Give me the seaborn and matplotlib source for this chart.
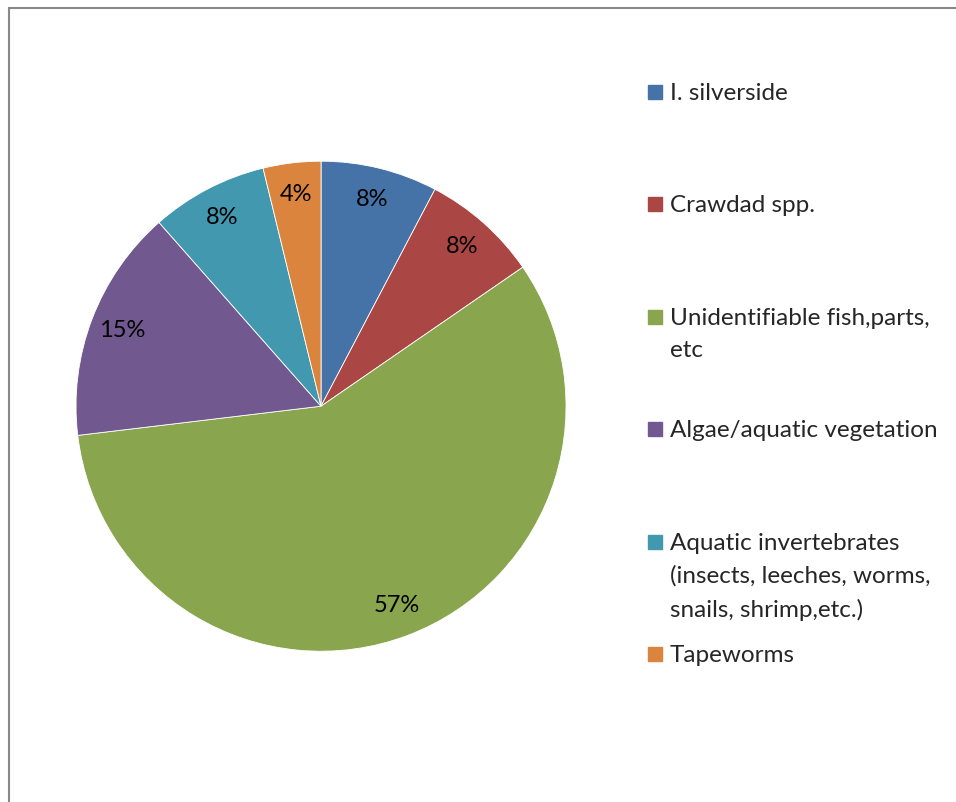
import matplotlib
matplotlib.use("Agg")
import matplotlib.pyplot as plt
import seaborn as sns
from matplotlib.patches import Rectangle

categories = [
    "I. silverside",
    "Crawdad spp.",
    "Unidentifiable fish,parts,\netc",
    "Algae/aquatic vegetation",
    "Aquatic invertebrates\n(insects, leeches, worms,\nsnails, shrimp,etc.)",
    "Tapeworms",
]
shares = [7.7, 7.7, 57.7, 15.4, 7.7, 3.8]
pct_labels = ["8%", "8%", "57%", "15%", "8%", "4%"]
colors = ["#4572A7", "#AA4643", "#89A54E", "#71588F", "#4198AF", "#DB843D"]

sns.set_theme(style="white")
plt.rcParams["font.family"] = ["Lato", "DejaVu Sans"]

fig = plt.figure(figsize=(9.56, 8.02), dpi=100)
ax = fig.add_axes([0.0795, 0.188, 0.5126, 0.611])

wedges, texts = ax.pie(
    shares,
    labels=pct_labels,
    colors=sns.color_palette(colors),
    startangle=90,
    counterclock=False,
    labeldistance=0.87,
    wedgeprops=dict(edgecolor="white", linewidth=0.6),
)
for t in texts:
    t.set_ha("center")
    t.set_va("center")
    t.set_fontsize(17)
    t.set_color("black")
ax.set_xlim(-1, 1)
ax.set_ylim(-1, 1)
ax.set_aspect("equal")

# legend drawn by hand: Excel keeps a fixed slot per entry
y0 = 1 - 84 / 802
step = 112.4 / 802
for i, (lab, c) in enumerate(zip(categories, colors)):
    y = y0 - i * step
    fig.add_artist(Rectangle((648 / 956, y - 15 / 802), 14 / 956, 14 / 802,
                             transform=fig.transFigure, color=c))
    fig.text(670 / 956, y + 1 / 802, lab, fontsize=17.5, va="top", ha="left",
             linespacing=1.68)

# chart-area border (left and top edges visible)
fig.add_artist(Rectangle((8.5 / 956, -0.1), 1.2, 1.1 - 7.5 / 802,
                         transform=fig.transFigure, fill=False,
                         edgecolor="#888888", linewidth=1.5))

fig.savefig("out.png", dpi=100)
